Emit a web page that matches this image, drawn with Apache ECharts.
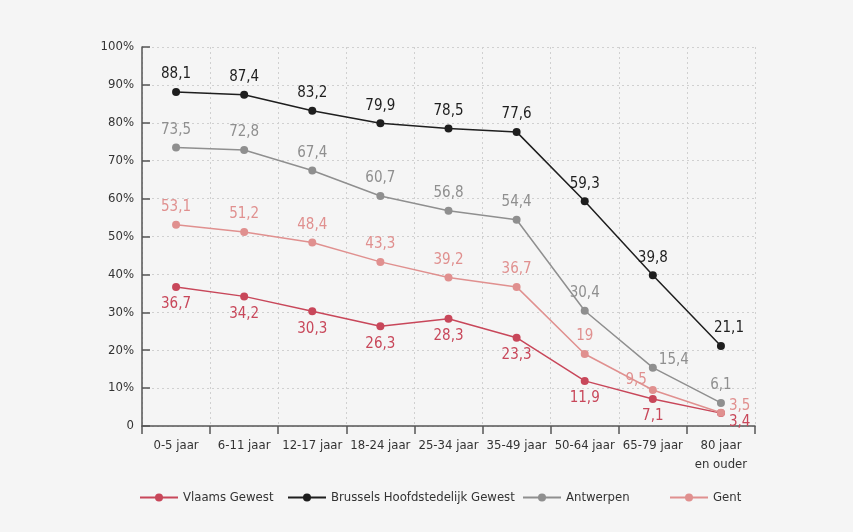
<!DOCTYPE html>
<html>
<head>
<meta charset="utf-8">
<script src="https://cdn.jsdelivr.net/npm/echarts@6/dist/echarts.min.js"></script>
<style>
	html, body { margin: 0; padding: 0; background: #ececec; }
	#chart { width: 853px; height: 532px; }
</style>
</head>
<body>
<div id="chart"></div>
<script>
// categorieen (leeftijdsgroepen)
var categories = ['0-5 jaar', '6-11 jaar', '12-17 jaar', '18-24 jaar', '25-34 jaar', '35-49 jaar', '50-64 jaar', '65-79 jaar', '80 jaar\nen ouder'];
// waarden per reeks (%)
var vlaams = [36.7, 34.2, 30.3, 26.3, 28.3, 23.3, 11.9, 7.1, 3.4];
var brussel = [88.1, 87.4, 83.2, 79.9, 78.5, 77.6, 59.3, 39.8, 21.1];
var antwerpen = [73.5, 72.8, 67.4, 60.7, 56.8, 54.4, 30.4, 15.4, 6.1];
var gent = [53.1, 51.2, 48.4, 43.3, 39.2, 36.7, 19, 9.5, 3.5];
var yTicks = [0, 10, 20, 30, 40, 50, 60, 70, 80, 90, 100];

var font = '"DejaVu Sans Condensed", "Liberation Sans", sans-serif';

function fmt(v) {
	return String(v).replace('.', ',');
}

// data met aparte labelpositie voor enkele punten
function withLabels(arr, special) {
	return arr.map(function(v, i) {
		if (special[i]) {
			return { value: v, label: special[i] };
		}
		return v;
	});
}

function makeSeries(name, data, color, pos, special) {
	return {
		name: name,
		type: 'line',
		data: withLabels(data, special || {}),
		symbol: 'circle',
		symbolSize: 8,
		lineStyle: { color: color, width: 1.5 },
		itemStyle: { color: color },
		label: {
			show: true,
			position: pos,
			distance: 6,
			color: color,
			fontFamily: font,
			fontSize: 15,
			formatter: function(p) { return fmt(p.value); }
		}
	};
}

var myChart = echarts.init(document.getElementById('chart'));

function legendItem(name, left) {
	return {
		data: [name],
		left: left,
		top: 486,
		itemWidth: 38,
		itemHeight: 10,
		itemGap: 0,
		textStyle: { fontFamily: font, fontSize: 13, color: '#333' }
	};
}

var options = {
	backgroundColor: '#f5f5f5',
	animation: false,
	grid: { left: 142, right: 98, top: 47, bottom: 106 },
	legend: [
		legendItem('Vlaams Gewest', 134),
		legendItem('Brussels Hoofdstedelijk Gewest', 282),
		legendItem('Antwerpen', 517),
		legendItem('Gent', 664)
	],
	xAxis: {
		type: 'category',
		data: categories,
		boundaryGap: true,
		axisLine: { lineStyle: { color: '#555', width: 1.5 } },
		axisTick: { show: true, length: 8, interval: 0, lineStyle: { color: '#555', width: 1.5 } },
		axisLabel: { interval: 0, color: '#333', fontFamily: font, fontSize: 13, margin: 10, lineHeight: 19 },
		splitLine: { show: true, interval: 0, lineStyle: { color: '#d0d0d0', type: [2, 3] } }
	},
	yAxis: {
		type: 'value',
		min: yTicks[0],
		max: yTicks[yTicks.length - 1],
		interval: 10,
		axisLine: { show: true, lineStyle: { color: '#555', width: 1.5 } },
		axisTick: { show: true, inside: true, length: 8, lineStyle: { color: '#555', width: 1.5 } },
		axisLabel: {
			color: '#333', fontFamily: font, fontSize: 13, margin: 8,
			formatter: function(v) { return v === 0 ? '0' : v + '%'; }
		},
		splitLine: { show: true, lineStyle: { color: '#d0d0d0', type: [2, 3] } }
	},
	series: [
		makeSeries('Vlaams Gewest', vlaams, '#c8475a', 'bottom', {
			8: { position: 'right', offset: [-2, 9] }
		}),
		makeSeries('Brussels Hoofdstedelijk Gewest', brussel, '#1e1e1e', 'top', {
			8: { position: 'top', offset: [8, 0] }
		}),
		makeSeries('Antwerpen', antwerpen, '#8f8f8f', 'top', {
			7: { position: 'right', offset: [-4, -8] }
		}),
		makeSeries('Gent', gent, '#e0908f', 'top', {
			7: { position: 'left', offset: [4, -10] },
			8: { position: 'right', offset: [-2, -7] }
		})
	]
};
myChart.setOption(options);
</script>
</body>
</html>
